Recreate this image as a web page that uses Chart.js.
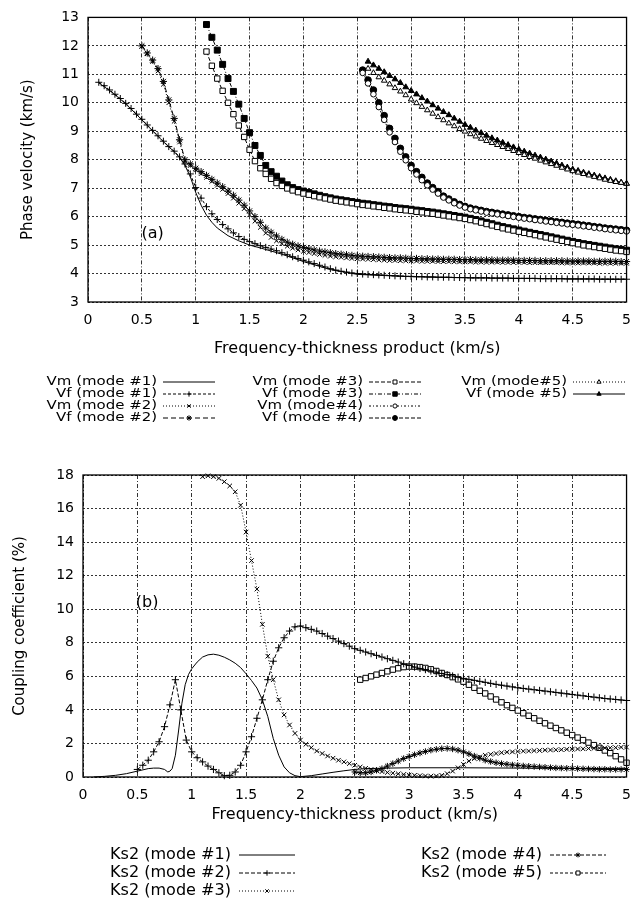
<!DOCTYPE html>
<html>
<head>
<meta charset="utf-8">
<script src="https://cdn.jsdelivr.net/npm/chart.js@4.4.1/dist/chart.umd.min.js"></script>
<style>
  body { margin: 0; background: #fff; }
  #wrap { position: relative; width: 641px; height: 902px; }
  canvas { position: absolute; left: 0; }
</style>
</head>
<body>
<div id="wrap">
  <canvas id="chartA" width="641" height="452" style="top:0"></canvas>
  <canvas id="chartB" width="641" height="450" style="top:452px"></canvas>
</div>
<script>
// eje x comun (km/s), paso 0.05
const xGrid = [0.10,0.15,0.20,0.25,0.30,0.35,0.40,0.45,0.50,0.55,0.60,0.65,0.70,0.75,0.80,0.85,0.90,0.95,
  1.00,1.05,1.10,1.15,1.20,1.25,1.30,1.35,1.40,1.45,1.50,1.55,1.60,1.65,1.70,1.75,1.80,1.85,1.90,1.95,
  2.00,2.05,2.10,2.15,2.20,2.25,2.30,2.35,2.40,2.45,2.50,2.55,2.60,2.65,2.70,2.75,2.80,2.85,2.90,2.95,
  3.00,3.05,3.10,3.15,3.20,3.25,3.30,3.35,3.40,3.45,3.50,3.55,3.60,3.65,3.70,3.75,3.80,3.85,3.90,3.95,
  4.00,4.05,4.10,4.15,4.20,4.25,4.30,4.35,4.40,4.45,4.50,4.55,4.60,4.65,4.70,4.75,4.80,4.85,4.90,4.95,5.00];

// ---- (a) velocidad de fase ----
const xVm1 = [0.10,0.20,0.30,0.40,0.50,0.60,0.70,0.80,0.85,0.90,0.95,1.00,1.05,1.10,1.15,1.20,1.30,1.40,1.50,1.60,1.80,2.00,2.25,2.50,3.00,3.50,4.00,4.50,5.00];
const vm1 = [10.70,10.43,10.13,9.78,9.40,9.01,8.63,8.28,8.08,7.80,7.40,6.85,6.40,6.05,5.80,5.60,5.33,5.15,5.00,4.90,4.68,4.42,4.14,3.97,3.89,3.85,3.83,3.81,3.80];

const vf1 = [10.72,10.60,10.45,10.30,10.15,9.98,9.80,9.60,9.42,9.22,
  9.03,8.84,8.65,8.46,8.30,8.10,7.85,7.50,7.02,6.65,
  6.35,6.10,5.90,5.72,5.57,5.43,5.30,5.20,5.12,5.05,
  4.98,4.92,4.86,4.80,4.73,4.66,4.59,4.53,4.47,4.41,
  4.35,4.29,4.23,4.17,4.12,4.08,4.05,4.02,4.00,3.98,
  3.97,3.96,3.95,3.94,3.93,3.92,3.91,3.90,3.90,3.89,
  3.89,3.88,3.88,3.87,3.87,3.87,3.86,3.86,3.86,3.85,
  3.85,3.85,3.85,3.84,3.84,3.84,3.84,3.83,3.83,3.83,
  3.83,3.83,3.82,3.82,3.82,3.82,3.82,3.81,3.81,3.81,
  3.81,3.81,3.81,3.80,3.80,3.80,3.80,3.80,3.80];

const vm2 = [11.98,11.72,11.45,11.12,10.65,10.00,9.35,8.62,7.95,7.80,
  7.64,7.51,7.38,7.24,7.10,6.96,6.81,6.65,6.47,6.28,
  6.06,5.84,5.62,5.42,5.27,5.15,5.05,4.96,4.89,4.83,
  4.78,4.74,4.70,4.67,4.64,4.61,4.59,4.57,4.55,4.53,
  4.52,4.51,4.50,4.49,4.48,4.47,4.46,4.46,4.45,4.45,
  4.44,4.44,4.43,4.43,4.43,4.42,4.42,4.42,4.41,4.41,
  4.41,4.41,4.40,4.40,4.40,4.40,4.40,4.39,4.39,4.39,
  4.39,4.39,4.38,4.38,4.38,4.38,4.38,4.38,4.37,4.37,
  4.37,4.37,4.37,4.37,4.37,4.36,4.36,4.36,4.36,4.36,
  4.36];
const vf2 = [12.00,11.75,11.50,11.20,10.75,10.10,9.45,8.70,8.00,7.85,
  7.70,7.58,7.45,7.31,7.18,7.05,6.90,6.75,6.58,6.40,
  6.20,6.00,5.80,5.60,5.45,5.32,5.20,5.10,5.03,4.97,
  4.92,4.87,4.83,4.79,4.76,4.73,4.70,4.68,4.66,4.64,
  4.62,4.61,4.60,4.59,4.58,4.57,4.56,4.55,4.55,4.54,
  4.53,4.53,4.52,4.52,4.51,4.51,4.50,4.50,4.50,4.49,
  4.49,4.49,4.48,4.48,4.48,4.48,4.47,4.47,4.47,4.47,
  4.46,4.46,4.46,4.46,4.45,4.45,4.45,4.45,4.45,4.44,
  4.44,4.44,4.44,4.44,4.43,4.43,4.43,4.43,4.43,4.42,
  4.42];

const vm3 = [11.80,11.30,10.85,10.42,10.00,9.60,9.20,8.80,8.35,7.95,
  7.70,7.50,7.33,7.18,7.08,6.99,6.92,6.86,6.81,6.77,
  6.72,6.68,6.64,6.60,6.56,6.53,6.50,6.47,6.44,6.41,
  6.39,6.36,6.34,6.31,6.29,6.26,6.24,6.22,6.20,6.17,
  6.15,6.12,6.10,6.07,6.04,6.01,5.98,5.95,5.92,5.88,
  5.84,5.79,5.74,5.69,5.64,5.59,5.55,5.51,5.47,5.43,
  5.39,5.35,5.31,5.27,5.23,5.19,5.15,5.11,5.07,5.03,
  4.99,4.96,4.93,4.90,4.87,4.84,4.81,4.79,4.76];
const vf3 = [12.75,12.30,11.85,11.35,10.85,10.40,9.95,9.45,8.95,8.50,
  8.15,7.80,7.58,7.42,7.25,7.12,7.02,6.95,6.90,6.85,
  6.80,6.75,6.70,6.66,6.62,6.59,6.56,6.53,6.50,6.47,
  6.45,6.42,6.40,6.37,6.35,6.32,6.30,6.28,6.26,6.23,
  6.21,6.18,6.16,6.13,6.10,6.07,6.04,6.01,5.98,5.94,
  5.90,5.85,5.80,5.75,5.70,5.65,5.61,5.57,5.53,5.49,
  5.45,5.41,5.37,5.33,5.29,5.25,5.21,5.17,5.13,5.09,
  5.05,5.02,4.99,4.96,4.93,4.90,4.87,4.85,4.82];

const vm4 = [11.05,10.68,10.30,9.85,9.40,8.96,8.62,8.28,7.98,7.70,
  7.48,7.28,7.10,6.95,6.81,6.67,6.57,6.47,6.39,6.32,
  6.26,6.22,6.18,6.14,6.11,6.08,6.05,6.02,5.99,5.96,
  5.93,5.91,5.88,5.86,5.83,5.81,5.78,5.76,5.73,5.71,
  5.69,5.66,5.64,5.61,5.59,5.56,5.54,5.52,5.50,5.48];
const vf4 = [11.15,10.80,10.45,10.00,9.55,9.10,8.75,8.40,8.10,7.80,
  7.58,7.38,7.18,7.02,6.88,6.72,6.62,6.52,6.43,6.36,
  6.30,6.26,6.22,6.18,6.15,6.12,6.09,6.06,6.03,6.00,
  5.97,5.95,5.92,5.90,5.87,5.85,5.82,5.80,5.77,5.75,
  5.73,5.70,5.68,5.65,5.63,5.60,5.58,5.56,5.54,5.52];

const vm5 = [11.20,11.05,10.90,10.78,10.65,10.52,10.40,10.27,10.12,9.99,
  9.86,9.74,9.62,9.50,9.39,9.28,9.18,9.08,8.99,8.90,
  8.82,8.74,8.66,8.59,8.52,8.45,8.38,8.31,8.24,8.17,
  8.10,8.04,7.97,7.91,7.85,7.79,7.72,7.66,7.60,7.55,
  7.50,7.45,7.40,7.35,7.30,7.26,7.22,7.19,7.16];
const vf5 = [11.45,11.32,11.20,11.08,10.95,10.83,10.70,10.55,10.42,10.30,
  10.17,10.05,9.92,9.80,9.68,9.57,9.45,9.34,9.23,9.13,
  9.03,8.94,8.85,8.76,8.68,8.60,8.52,8.44,8.36,8.29,
  8.22,8.15,8.08,8.01,7.94,7.87,7.80,7.73,7.66,7.61,
  7.55,7.50,7.45,7.40,7.35,7.30,7.25,7.20,7.16];

// ---- (b) coeficiente de acoplamiento ----
const xK1 = [0.10,0.20,0.30,0.40,0.50,0.60,0.65,0.70,0.75,0.78,0.80,0.82,0.85,0.88,0.91,0.94,0.97,1.00,1.05,1.10,
  1.15,1.20,1.25,1.30,1.35,1.40,1.45,1.50,1.55,1.60,1.65,1.70,1.75,1.80,1.85,1.90,1.95,2.00,2.10,2.20,
  2.30,2.40,2.50,2.60,2.80,3.00,3.50,4.00,4.50,5.00];
const k1 = [0.00,0.04,0.10,0.20,0.35,0.50,0.53,0.53,0.45,0.30,0.35,0.50,1.30,2.80,4.40,5.50,6.10,6.45,6.85,7.15,
  7.28,7.32,7.26,7.14,6.98,6.78,6.52,6.15,5.75,5.30,4.60,3.60,2.30,1.30,0.60,0.25,0.08,0.02,0.08,0.18,
  0.28,0.37,0.45,0.50,0.53,0.55,0.55,0.53,0.51,0.50];
const k2 = [0.45,0.70,1.00,1.50,2.10,3.00,4.30,5.80,4.00,2.20,
  1.50,1.15,0.90,0.65,0.45,0.25,0.08,0.10,0.30,0.70,
  1.50,2.40,3.50,4.60,5.80,6.90,7.70,8.30,8.70,8.95,
  9.00,8.90,8.80,8.70,8.55,8.40,8.25,8.10,7.95,7.80,
  7.65,7.55,7.45,7.35,7.25,7.15,7.05,6.95,6.85,6.75,
  6.65,6.55,6.47,6.40,6.32,6.25,6.17,6.10,6.02,5.95,
  5.88,5.82,5.76,5.70,5.64,5.58,5.52,5.47,5.42,5.37,
  5.32,5.28,5.24,5.20,5.16,5.12,5.08,5.04,5.00,4.96,
  4.92,4.88,4.84,4.80,4.76,4.72,4.68,4.65,4.62,4.59,
  4.56];
const k3 = [17.90,17.95,17.90,17.80,17.60,17.35,17.00,16.20,14.60,12.90,
  11.20,9.10,7.20,5.80,4.60,3.70,3.10,2.60,2.20,1.95,
  1.75,1.55,1.40,1.25,1.12,1.00,0.90,0.80,0.70,0.60,
  0.52,0.45,0.38,0.32,0.27,0.23,0.19,0.15,0.12,0.10,
  0.08,0.06,0.05,0.06,0.10,0.20,0.35,0.55,0.75,0.95,
  1.10,1.20,1.30,1.35,1.40,1.45,1.48,1.50,1.52,1.54,
  1.55,1.57,1.58,1.60,1.61,1.62,1.63,1.65,1.66,1.67,
  1.68,1.70,1.71,1.72,1.73,1.74,1.75,1.77,1.78];
const k4 = [0.30,0.25,0.25,0.30,0.40,0.50,0.65,0.80,0.95,1.10,
  1.22,1.33,1.43,1.52,1.60,1.65,1.69,1.70,1.67,1.60,
  1.50,1.38,1.25,1.12,1.00,0.92,0.85,0.80,0.76,0.72,
  0.69,0.66,0.64,0.62,0.60,0.58,0.56,0.54,0.53,0.52,
  0.51,0.50,0.49,0.48,0.47,0.46,0.46,0.45,0.45,0.45,
  0.45];
const k5 = [5.80,5.90,6.00,6.10,6.20,6.30,6.40,6.48,6.55,6.58,
  6.58,6.55,6.50,6.42,6.32,6.20,6.08,5.95,5.82,5.68,
  5.50,5.32,5.14,4.98,4.80,4.62,4.45,4.28,4.12,3.96,
  3.80,3.65,3.50,3.35,3.20,3.06,2.92,2.78,2.64,2.50,
  2.35,2.20,2.05,1.90,1.74,1.58,1.42,1.24,1.05,0.85];

const FONT = '"DejaVu Sans", sans-serif';

// arma los puntos {x,y} a partir del eje comun
function serie(xStart, ys) {
  const i0 = xGrid.indexOf(xStart);
  return ys.map((y, i) => ({ x: xGrid[i0 + i], y: y }));
}
function serieXY(xs, ys) {
  return ys.map((y, i) => ({ x: xs[i], y: y }));
}

function ds(label, data, estilo) {
  return Object.assign({
    label: label,
    data: data,
    borderColor: '#000',
    borderWidth: 1,
    pointBorderColor: '#000',
    pointBorderWidth: 1,
    pointBackgroundColor: '#000',
    pointRadius: 3,
    pointStyle: 'circle',
    borderDash: [],
    tension: 0,
    fill: false,
    clip: false
  }, estilo);
}

// marco, etiqueta (a)/(b) y leyenda propia
function extras(cfg) {
  return {
    id: 'extras',
    afterDraw(chart) {
      const ctx = chart.ctx;
      const a = chart.chartArea;
      ctx.save();
      ctx.strokeStyle = '#000';
      ctx.lineWidth = 1.3;
      ctx.strokeRect(a.left, a.top, a.right - a.left, a.bottom - a.top);

      ctx.fillStyle = '#000';
      ctx.font = cfg.panelFont;
      ctx.textAlign = 'center';
      ctx.textBaseline = 'middle';
      ctx.fillText(cfg.panel.text, chart.scales.x.getPixelForValue(cfg.panel.x), chart.scales.y.getPixelForValue(cfg.panel.y));

      ctx.font = cfg.font;
      cfg.items.forEach(it => {
        const d = chart.data.datasets[it.ds];
        const tx = cfg.cols[it.col];
        const ty = cfg.rows[it.row];
        // texto algo ensanchado, como en el original
        ctx.save();
        ctx.translate(tx, ty);
        ctx.scale(cfg.stretch, 1);
        ctx.fillStyle = '#000';
        ctx.textAlign = 'right';
        ctx.fillText(d.label, 0, 0);
        ctx.restore();
        const x0 = tx + cfg.gap, x1 = x0 + cfg.sample;
        ctx.strokeStyle = '#000';
        ctx.lineWidth = 1;
        ctx.setLineDash(d.borderDash || []);
        ctx.beginPath();
        ctx.moveTo(x0, ty);
        ctx.lineTo(x1, ty);
        ctx.stroke();
        ctx.setLineDash([]);
        if (d.pointRadius > 0) {
          ctx.fillStyle = d.pointBackgroundColor;
          Chart.helpers.drawPoint(ctx, { pointStyle: d.pointStyle, radius: d.pointRadius * 0.75, borderWidth: 1, rotation: 0 }, (x0 + x1) / 2, ty);
        }
      });
      ctx.restore();
    }
  };
}

function opciones(c) {
  return {
    responsive: false,
    animation: false,
    events: [],
    layout: { padding: { top: c.top, right: c.right, left: 0, bottom: 0 } },
    plugins: { legend: { display: false }, tooltip: { enabled: false } },
    scales: {
      x: {
        type: 'linear', min: 0, max: 5,
        ticks: { stepSize: 0.5, padding: 10, color: '#000', autoSkip: false, maxRotation: 0,
          font: { family: FONT, size: 14 }, callback: v => String(Number(v.toFixed(2))) },
        grid: { color: '#333', lineWidth: 1, drawTicks: false },
        border: { display: false, dash: [4, 2, 1, 2] },
        title: { display: true, text: 'Frequency-thickness product (km/s)', color: '#000', font: { family: FONT, size: 16 }, padding: { top: 0, bottom: c.xTitlePad } },
        afterFit: s => { s.height = c.xHeight; }
      },
      y: {
        type: 'linear', min: c.ymin, max: c.ymax,
        ticks: { stepSize: c.ystep, padding: 9, color: '#000', font: { family: FONT, size: 14 } },
        grid: { color: '#333', lineWidth: 1, drawTicks: false },
        border: { display: false, dash: [2, 2] },
        title: { display: true, text: c.ytitle, color: '#000', font: { family: FONT, size: 15 }, padding: { top: c.yTitlePad, bottom: 0 } },
        afterFit: s => { s.width = c.yWidth; }
      }
    }
  };
}

// (a)
new Chart(document.getElementById('chartA'), {
  type: 'line',
  data: {
    datasets: [
      ds('Vm (mode #1)', serieXY(xVm1, vm1), { pointRadius: 0 }),
      ds('Vf (mode #1)', serie(0.10, vf1), { pointStyle: 'cross', pointRadius: 3.5, borderDash: [3, 2] }),
      ds('Vm (mode #2)', serie(0.50, vm2), { pointStyle: 'crossRot', pointRadius: 3.2, borderDash: [1, 2] }),
      ds('Vf (mode #2)', serie(0.50, vf2), { pointStyle: 'star', pointRadius: 3.6, borderDash: [5, 3] }),
      ds('Vm (mode #3)', serie(1.10, vm3), { pointStyle: 'rect', pointRadius: 3.8, pointBackgroundColor: '#fff', borderDash: [4, 2] }),
      ds('Vf (mode #3)', serie(1.10, vf3), { pointStyle: 'rect', pointRadius: 4.2, borderDash: [4, 2, 1, 2] }),
      ds('Vm (mode#4)', serie(2.55, vm4), { pointStyle: 'circle', pointRadius: 2.8, pointBackgroundColor: '#fff', borderDash: [2, 2, 1, 2] }),
      ds('Vf (mode #4)', serie(2.55, vf4), { pointStyle: 'circle', pointRadius: 3.3, borderDash: [4, 2] }),
      ds('Vm (mode#5)', serie(2.60, vm5), { pointStyle: 'triangle', pointRadius: 3.2, pointBackgroundColor: '#fff', borderDash: [1, 2] }),
      ds('Vf (mode #5)', serie(2.60, vf5), { pointStyle: 'triangle', pointRadius: 3.3 })
    ]
  },
  options: opciones({ top: 15, right: 9, xHeight: 150, xTitlePad: 94, yWidth: 88, yTitlePad: 19,
    ymin: 3, ymax: 13, ystep: 1, ytitle: 'Phase velocity (km/s)' }),
  plugins: [extras({
    panel: { text: '(a)', x: 0.6, y: 5.4 }, panelFont: '16px ' + FONT,
    font: '13px ' + FONT, stretch: 1.15, gap: 6, sample: 52,
    cols: [157, 363, 567], rows: [382, 394, 406, 418],
    items: [
      { ds: 0, col: 0, row: 0 }, { ds: 1, col: 0, row: 1 }, { ds: 2, col: 0, row: 2 }, { ds: 3, col: 0, row: 3 },
      { ds: 4, col: 1, row: 0 }, { ds: 5, col: 1, row: 1 }, { ds: 6, col: 1, row: 2 }, { ds: 7, col: 1, row: 3 },
      { ds: 8, col: 2, row: 0 }, { ds: 9, col: 2, row: 1 }
    ]
  })]
});

// (b)
new Chart(document.getElementById('chartB'), {
  type: 'line',
  data: {
    datasets: [
      ds('Ks2 (mode #1)', serieXY(xK1, k1), { pointRadius: 0 }),
      ds('Ks2 (mode #2)', serie(0.50, k2), { pointStyle: 'cross', pointRadius: 3.6, borderDash: [4, 2] }),
      ds('Ks2 (mode #3)', serie(1.10, k3), { pointStyle: 'crossRot', pointRadius: 3.2, borderDash: [1, 2] }),
      ds('Ks2 (mode #4)', serie(2.50, k4), { pointStyle: 'star', pointRadius: 3.2, borderDash: [4, 2] }),
      ds('Ks2 (mode #5)', serie(2.55, k5), { pointStyle: 'rect', pointRadius: 3.8, pointBackgroundColor: '#fff', borderDash: [3, 2] })
    ]
  },
  options: opciones({ top: 23, right: 9, xHeight: 125, xTitlePad: 78, yWidth: 83, yTitlePad: 11,
    ymin: 0, ymax: 18, ystep: 2, ytitle: 'Coupling coefficient (%)' }),
  plugins: [extras({
    panel: { text: '(b)', x: 0.59, y: 10.4 }, panelFont: '16px ' + FONT,
    font: '15px ' + FONT, stretch: 1.07, gap: 8, sample: 56,
    cols: [231, 542], rows: [403, 421, 439],
    items: [
      { ds: 0, col: 0, row: 0 }, { ds: 1, col: 0, row: 1 }, { ds: 2, col: 0, row: 2 },
      { ds: 3, col: 1, row: 0 }, { ds: 4, col: 1, row: 1 }
    ]
  })]
});
</script>
</body>
</html>
